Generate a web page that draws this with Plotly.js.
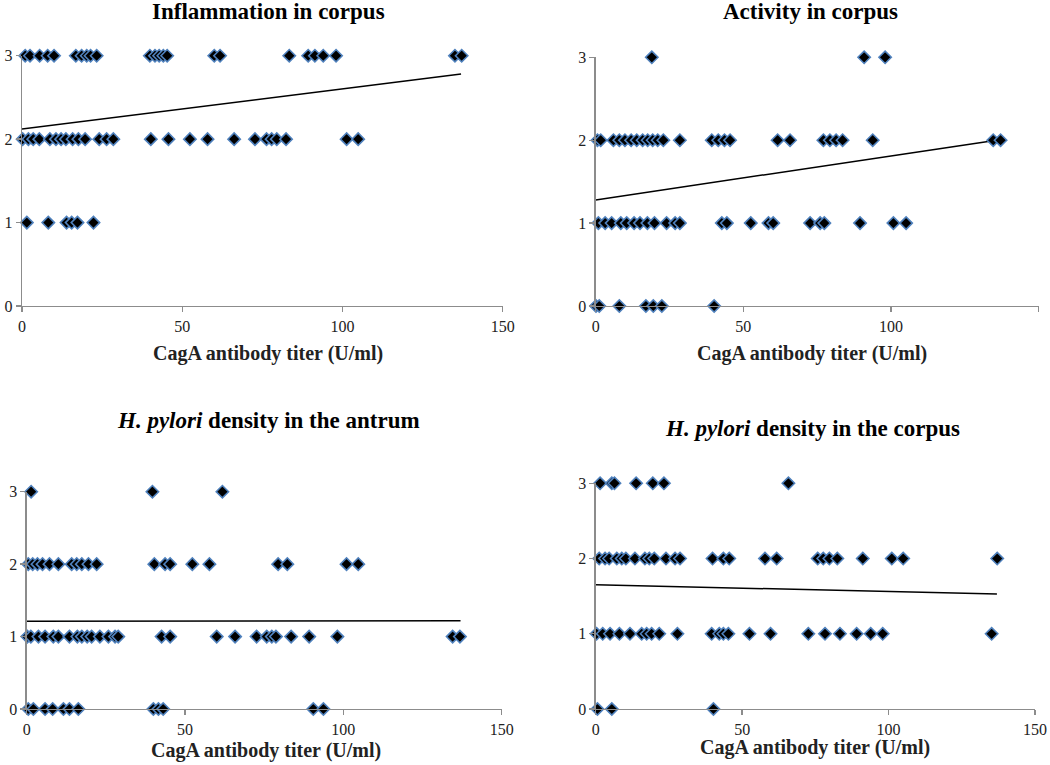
<!DOCTYPE html>
<html>
<head>
<meta charset="utf-8">
<script src="https://cdn.plot.ly/plotly-3.0.1.min.js"></script>
<style>html,body{margin:0;padding:0;background:#fff;}#chart{width:1050px;height:765px;}</style>
</head>
<body>
<div id="chart"></div>
<script>
// ---- Data (CagA antibody titer in U/ml, grouped by score) ----
// Inflammation in corpus
const inflScore3 = [1, 2.5, 5.5, 8, 10, 16.8, 18.6, 20.2, 21.4, 23.3, 39.9, 41.5, 42.8, 44.1, 45.3, 60, 61.8, 83.4, 89.3, 91.4, 94, 98, 135.1, 137.2];
const inflScore2 = [0.2, 2, 3.5, 5.4, 8.7, 10.6, 12.2, 13.7, 15.8, 17.6, 19.7, 24.1, 26.4, 28.5, 40.2, 45.7, 52.4, 57.9, 66.2, 72.7, 76.3, 77.9, 79.5, 82.4, 101.3, 104.9];
const inflScore1 = [1.5, 8.2, 13.9, 15.5, 17.3, 22.3];
const inflScore0 = [];
const inflTrendX = [0, 137];
const inflTrendY = [2.12, 2.78];

// Activity in corpus
const actScore3 = [19.0, 90.9, 98.0];
const actScore2 = [0.6, 1.7, 6.0, 8.0, 9.9, 12.0, 13.9, 15.9, 17.6, 19.3, 21.0, 22.9, 28.5, 39.3, 41.5, 43.6, 45.5, 61.6, 65.8, 77.1, 79.3, 81.4, 83.6, 93.8, 134.6, 137.1];
const actScore1 = [0.9, 3.2, 5.4, 8.5, 10.5, 13.0, 15.0, 17.5, 19.9, 24.0, 26.9, 28.5, 42.7, 44.4, 52.5, 58.5, 60.1, 72.6, 76.0, 77.4, 89.5, 100.8, 105.1];
const actScore0 = [0.1, 1.2, 8.0, 17.0, 19.5, 22.4, 40.1];
const actTrendX = [0, 134];
const actTrendY = [1.28, 1.99];

// H. pylori density in the antrum
const antScore3 = [1.4, 39.7, 61.8];
const antScore2 = [0.5, 1.9, 3.4, 5.0, 7.2, 10.0, 14.2, 15.8, 17.4, 19.5, 22.1, 40.3, 43.7, 45.3, 52.3, 57.7, 79.4, 82.3, 101.0, 104.7];
const antScore1 = [0.2, 1.3, 3.7, 5.8, 8.4, 10.0, 13.5, 16.0, 17.4, 19.1, 20.5, 23.1, 25.8, 27.9, 28.9, 42.6, 45.3, 60.0, 65.8, 72.6, 75.8, 77.4, 78.7, 83.5, 89.2, 98.1, 134.5, 136.8];
const antScore0 = [0.5, 2.1, 5.8, 8.2, 11.6, 13.5, 16.3, 40.0, 41.6, 43.1, 90.5, 93.7];
const antTrendX = [0, 137];
const antTrendY = [1.21, 1.22];

// H. pylori density in the corpus
const corScore3 = [1.5, 5.5, 6.4, 13.8, 19.5, 23.3, 65.8];
const corScore2 = [1.2, 3.2, 4.6, 7.2, 8.9, 10.3, 13.4, 16.8, 18.3, 20.0, 24.0, 27.1, 28.8, 39.9, 43.6, 45.6, 57.8, 61.8, 75.8, 77.7, 79.8, 82.5, 91.2, 101.1, 105.0, 137.1];
const corScore1 = [0.3, 2.4, 4.9, 8.1, 11.7, 15.7, 17.4, 19.1, 21.7, 27.9, 39.6, 42.2, 43.6, 45.3, 52.5, 59.7, 72.6, 78.3, 83.4, 89.1, 93.9, 98.0, 135.2];
const corScore0 = [0.6, 5.5, 40.2];
const corTrendX = [0, 137];
const corTrendY = [1.65, 1.53];

const scoreLevels = [3, 2, 1, 0];
const xTickVals = [0, 50, 100, 150];
const yTickVals = [0, 1, 2, 3];

const panelTitles = [
  'Inflammation in corpus',
  'Activity in corpus',
  '<i>H. pylori</i> density in the antrum',
  '<i>H. pylori</i> density in the corpus'
];
const xAxisTitle = 'CagA antibody titer (U/ml)';

// ---- Build ----
const panels = [
  {rows: [inflScore3, inflScore2, inflScore1, inflScore0], tx: inflTrendX, ty: inflTrendY},
  {rows: [actScore3, actScore2, actScore1, actScore0], tx: actTrendX, ty: actTrendY},
  {rows: [antScore3, antScore2, antScore1, antScore0], tx: antTrendX, ty: antTrendY},
  {rows: [corScore3, corScore2, corScore1, corScore0], tx: corTrendX, ty: corTrendY}
];

const FONT = 'Liberation Serif';
const W = 1050, H = 765;
// pixel geometry of each plot area: [x0, x1, yTop, yBottom]
const geom = [
  [22, 502.7, 55.7, 306],
  [595.7, 1038.7, 57.3, 306],
  [26.7, 501.7, 491.7, 709],
  [595.7, 1035, 483.3, 709]
];
const titlePos = [[268, 12], [810, 12], [268, 420], [812, 428]];
const axTitlePos = [[268, 353], [812, 353], [266, 750], [815, 747]];

const traces = [];
const layout = {
  width: W, height: H,
  margin: {l: 0, r: 0, t: 0, b: 0},
  paper_bgcolor: '#fff', plot_bgcolor: '#fff',
  showlegend: false,
  font: {family: FONT, color: '#222', size: 16},
  annotations: []
};

panels.forEach((p, i) => {
  const n = i + 1;
  const xa = n === 1 ? 'x' : 'x' + n;
  const ya = n === 1 ? 'y' : 'y' + n;
  const xs = [], ys = [];
  p.rows.forEach((row, r) => {
    row.forEach(v => { xs.push(v); ys.push(scoreLevels[r]); });
  });
  traces.push({
    type: 'scatter', mode: 'lines', x: p.tx, y: p.ty, xaxis: xa, yaxis: ya,
    line: {color: '#000', width: 1.5}, hoverinfo: 'skip'
  });
  traces.push({
    type: 'scatter', mode: 'markers', x: xs, y: ys, xaxis: xa, yaxis: ya,
    cliponaxis: false,
    marker: {symbol: 'diamond', size: 9.5, color: '#000', line: {color: '#4F81BD', width: 1.6}}
  });
  const g = geom[i];
  const axCommon = {
    showgrid: false, zeroline: false, showline: true, linecolor: '#8c8c8c', linewidth: 1.3,
    ticks: 'outside', ticklen: 5, tickcolor: '#8c8c8c', tickwidth: 1.3,
    tickfont: {family: FONT, size: 16, color: '#222'},
    fixedrange: true
  };
  layout[n === 1 ? 'xaxis' : 'xaxis' + n] = Object.assign({}, axCommon, {
    domain: [g[0] / W, g[1] / W], range: [0, 150], tickvals: xTickVals, anchor: ya
  });
  layout[n === 1 ? 'yaxis' : 'yaxis' + n] = Object.assign({}, axCommon, {
    domain: [1 - g[3] / H, 1 - g[2] / H], range: [0, 3], tickvals: yTickVals, anchor: xa
  });
  layout.annotations.push({
    xref: 'paper', yref: 'paper', x: titlePos[i][0] / W, y: 1 - titlePos[i][1] / H,
    xanchor: 'center', yanchor: 'middle', showarrow: false,
    text: '<b>' + panelTitles[i] + '</b>',
    font: {family: FONT, size: 23, color: '#000'}
  });
  layout.annotations.push({
    xref: 'paper', yref: 'paper', x: axTitlePos[i][0] / W, y: 1 - axTitlePos[i][1] / H,
    xanchor: 'center', yanchor: 'middle', showarrow: false,
    text: '<b>' + xAxisTitle + '</b>',
    font: {family: FONT, size: 20, color: '#222'}
  });
});

Plotly.newPlot('chart', traces, layout, {displayModeBar: false, staticPlot: true});
</script>
</body>
</html>
